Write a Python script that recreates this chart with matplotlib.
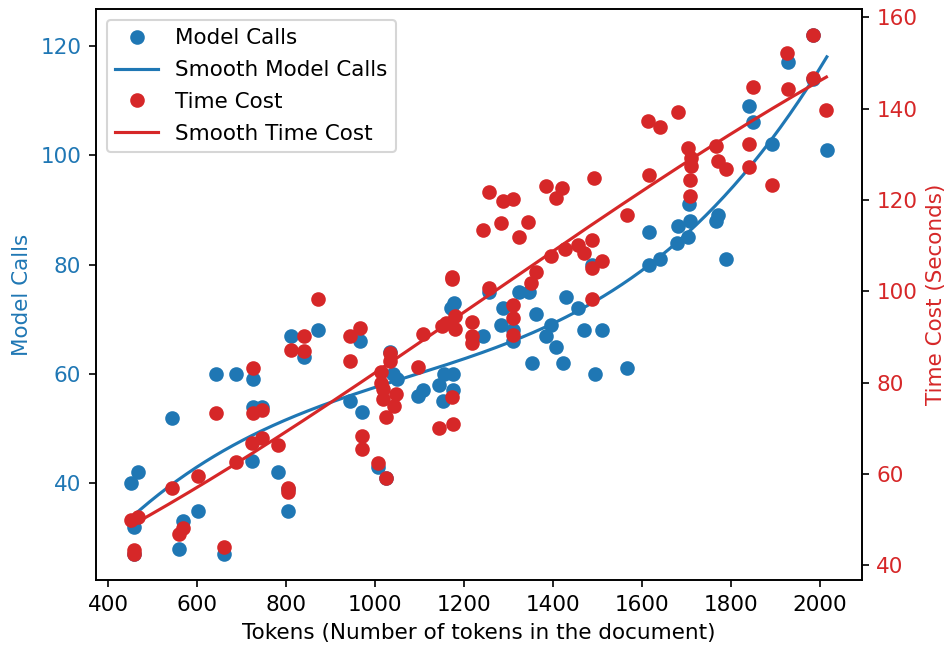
import numpy as np
import matplotlib
matplotlib.use("Agg")
import matplotlib.pyplot as plt

plt.rcParams["font.size"] = 10.3

# Model calls per document (tokens, calls); a few sit hidden under red dots
calls_tokens = [451, 468, 458, 458, 544, 569, 559, 603, 643, 688, 726,
                726, 746, 723, 782, 805, 805, 660, 811, 840, 871, 945,
                966, 972, 1007, 1024, 1033, 1040, 1049, 1097, 1108, 1143,
                1156, 1153, 1175, 1175, 1177, 1171, 1257, 1243, 1287, 1284,
                1310, 1310, 1325, 1346, 1363, 1352, 1385, 1396, 1407, 1422,
                1430, 1457, 1471, 1489, 1495, 1510, 1567, 1617, 1617, 1641,
                1682, 1680, 1704, 1709, 1707, 1772, 1766, 1789, 1841, 1849,
                1892, 1929, 2016, 1985, 1985]
model_calls = [40, 42, 32, 27, 52, 33, 28, 35, 60, 60, 59,
               54, 54, 44, 42, 35, 39, 27, 67, 63, 68, 55,
               66, 53, 43, 41, 64, 60, 59, 56, 57, 58,
               60, 55, 60, 57, 73, 72, 75, 67, 72, 69,
               66, 68, 75, 75, 71, 62, 67, 69, 65, 62,
               74, 72, 68, 80, 60, 68, 61, 86, 80, 81,
               87, 84, 85, 88, 91, 89, 88, 81, 109, 106,
               102, 117, 101, 122, 114]

# Time cost per document (tokens, seconds)
time_tokens = [451, 468, 458, 458, 544, 569, 559, 603, 643, 660,
               688, 726, 726, 746, 723, 746, 782, 805, 805, 811,
               840, 840, 871, 945, 945, 966, 972, 972, 1007, 1024,
               1033, 1033, 1014, 1014, 1018, 1018, 1048, 1042, 1024, 1097,
               1109, 1143, 1151, 1160, 1173, 1173, 1180, 1180, 1175, 1173,
               1218, 1218, 1218, 1256, 1243, 1284, 1289, 1310, 1323, 1344,
               1385, 1421, 1407, 1493, 1567, 1257, 1310, 1310, 1310, 1351,
               1363, 1396, 1428, 1456, 1471, 1489, 1489, 1510, 1489, 1617,
               1615, 1641, 1682, 1704, 1710, 1711, 1708, 1708, 1766, 1772,
               1789, 1841, 1841, 1849, 1892, 1929, 1926, 1985, 1985, 2015]
time_cost = [49.9, 50.6, 43.3, 42.4, 56.8, 48.2, 46.8, 59.5, 73.4, 43.9,
             62.7, 83.1, 73.4, 73.9, 66.8, 67.9, 66.4, 57.0, 56.0, 87.2,
             90.3, 86.8, 98.4, 84.7, 90.1, 92.0, 68.3, 65.4, 62.3, 59.0,
             86.5, 84.7, 82.3, 79.9, 78.5, 76.3, 77.4, 74.8, 72.5, 83.4,
             90.7, 70.1, 92.3, 93.0, 103.2, 102.7, 94.5, 91.7, 71.0, 76.8,
             93.2, 90.1, 88.7, 121.7, 113.4, 115.0, 119.8, 120.2, 111.8, 115.1,
             123.1, 122.7, 120.4, 124.7, 116.7, 100.7, 96.9, 94.1, 90.5, 101.8,
             104.2, 107.8, 109.2, 110.2, 108.4, 111.3, 105.1, 106.7, 98.4, 125.5,
             137.3, 136.0, 139.3, 131.3, 129.1, 127.4, 124.4, 120.9, 131.8, 128.5,
             126.8, 132.2, 127.3, 144.8, 123.3, 144.2, 152.1, 156.1, 146.7, 139.7]

blue = "tab:blue"
red = "tab:red"

fig, ax1 = plt.subplots(figsize=(950 / 150, 649 / 150), dpi=150)
fig.subplots_adjust(left=0.101, right=0.907, bottom=0.106, top=0.986)

# smooth curves: cubic fit over the token range
xc = np.array(calls_tokens)
yc = np.array(model_calls)
xs_c = np.linspace(xc.min(), xc.max(), 300)
fit_c = np.polyval(np.polyfit(xc, yc, 3), xs_c)

xt = np.array(time_tokens)
yt = np.array(time_cost)
xs_t = np.linspace(xt.min(), xt.max(), 300)
fit_t = np.polyval(np.polyfit(xt, yt, 3), xs_t)

l1, = ax1.plot(xc, yc, "o", color=blue, label="Model Calls")
l2, = ax1.plot(xs_c, fit_c, "-", color=blue, label="Smooth Model Calls")
ax1.set_xlabel("Tokens (Number of tokens in the document)")
ax1.set_ylabel("Model Calls", color=blue)
ax1.tick_params(axis="y", labelcolor=blue)
ax1.set_xticks(range(400, 2001, 200))

ax2 = ax1.twinx()
l3, = ax2.plot(xt, yt, "o", color=red, label="Time Cost")
l4, = ax2.plot(xs_t, fit_t, "-", color=red, label="Smooth Time Cost")
ax2.set_ylabel("Time Cost (Seconds)", color=red)
ax2.tick_params(axis="y", labelcolor=red)

ax2.legend(handles=[l1, l2, l3, l4], loc="upper left", labelspacing=0.55)

fig.savefig("out.png", dpi=150)
